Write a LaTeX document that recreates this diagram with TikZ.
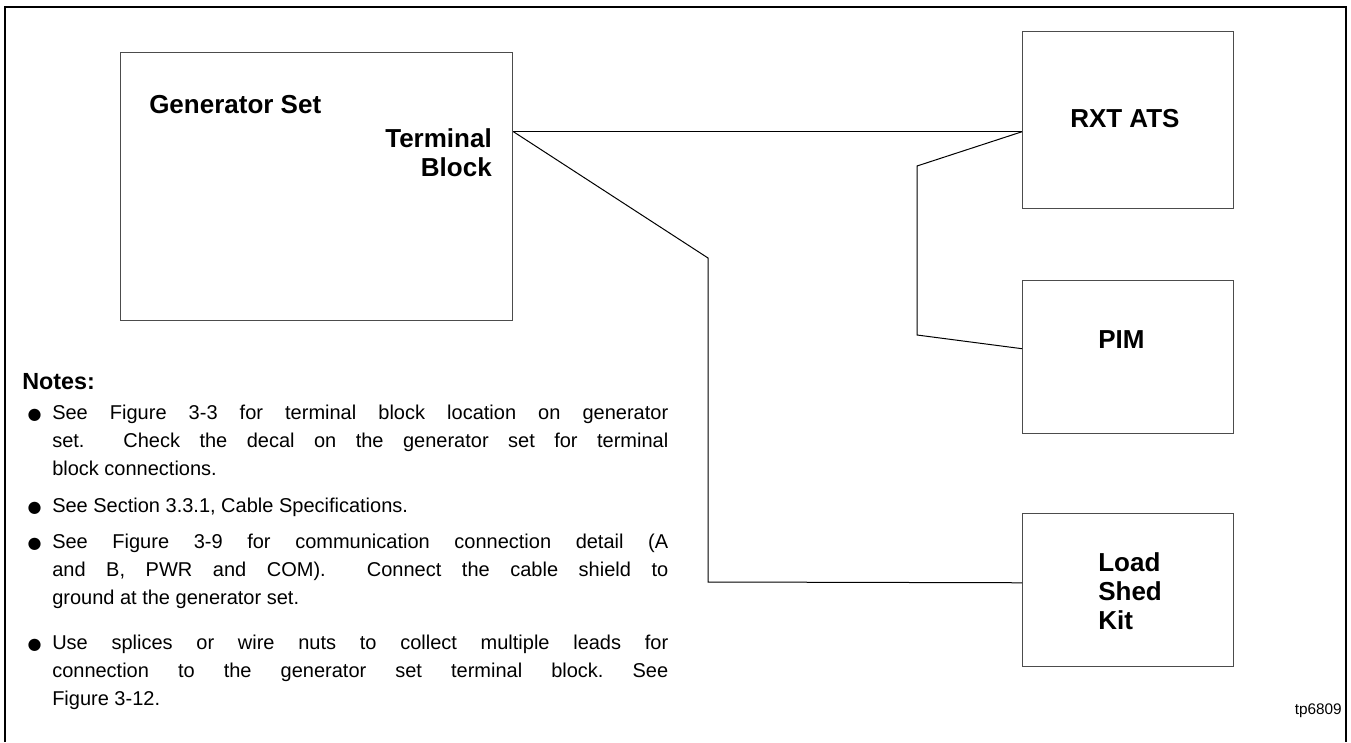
\documentclass[tikz,border=0pt]{standalone}
\usepackage{fontspec}
\setmainfont{Liberation Sans}
\newfontfamily\dejavu{DejaVu Sans}
\usetikzlibrary{positioning,calc}

\newcommand{\notebullet}{\noindent\frenchspacing\llap{{\dejavu\fontsize{12}{12}\selectfont ●}\hspace{8pt}}}

\begin{document}
\begin{tikzpicture}[
  x=0.75pt,y=-0.75pt,
  unit/.style={draw=black!70,line width=1.1pt,inner sep=0pt,anchor=north west},
  lbl/.style={font=\fontsize{19.5}{22}\selectfont\bfseries,inner sep=0pt},
  wire/.style={draw,line width=0.75pt},
  note/.style={font=\fontsize{15}{21}\selectfont,text width=462pt,align=justify,inner sep=0pt,anchor=north west}
]
\useasboundingbox (0,0) rectangle (1351,742);
% outer frame, open at the bottom
\draw[line width=1.6pt] (5,742) -- (5,7) -- (1346,7) -- (1346,742);

% units
\node[unit,minimum width=294pt,minimum height=201pt] (gen) at (120,52) {};
\node[unit,minimum width=158.25pt,minimum height=132.75pt] (rxt) at (1022,31) {};
\node[unit,minimum width=158.25pt,minimum height=114.75pt] (pim) at (1022,280) {};
\node[unit,minimum width=158.25pt,minimum height=114.75pt] (lsk) at (1022,513) {};

% labels
\node[lbl,anchor=base west] (genlbl) at (149,113) {Generator Set};
\node[lbl,anchor=north east,align=right] (tblbl) at (492,128) {Terminal\\Block};
\node[lbl,anchor=base west] (rxtlbl) at (1070,127) {RXT ATS};
\node[lbl,anchor=base west] (pimlbl) at (1098,348) {PIM};
\node[lbl,anchor=north west,align=left] (lsklbl) at (1098,552) {Load\\Shed\\Kit};
\node[font=\fontsize{11.5}{12}\selectfont,inner sep=0pt,anchor=base east] (figno) at (1342,714) {tp6809};

% wiring
\coordinate (tb) at ([yshift=41.25pt]gen.east);
\draw[wire] (tb) -- (rxt.west |- tb);
\draw[wire] (rxt.west |- tb) -- (917,166) -- (917,335) -- ([yshift=6.4pt]pim.west);
\draw[wire] (tb) -- (708,258) -- (708,582) -- ([yshift=5.6pt]lsk.west);

% notes
\node[font=\fontsize{17.5}{21}\selectfont\bfseries,inner sep=0pt,anchor=base west] (notes) at (22,389) {Notes:};
\node[note] (n1) at (52,404.5) {\notebullet See Figure 3-3 for terminal block location on generator\linebreak set.\ \ Check the decal on the generator set for terminal\linebreak block connections.};
\node[note] (n2) at (52,497.5) {\notebullet See Section 3.3.1, Cable Specifications.};
\node[note] (n3) at (52,533.5) {\notebullet See Figure 3-9 for communication connection detail (A\linebreak and B, PWR and COM).\ \ Connect the cable shield to\linebreak ground at the generator set.};
\node[note] (n4) at (52,634.5) {\notebullet Use splices or wire nuts to collect multiple leads for\linebreak connection to the generator set terminal block. See\linebreak Figure 3-12.};
\end{tikzpicture}
\end{document}
